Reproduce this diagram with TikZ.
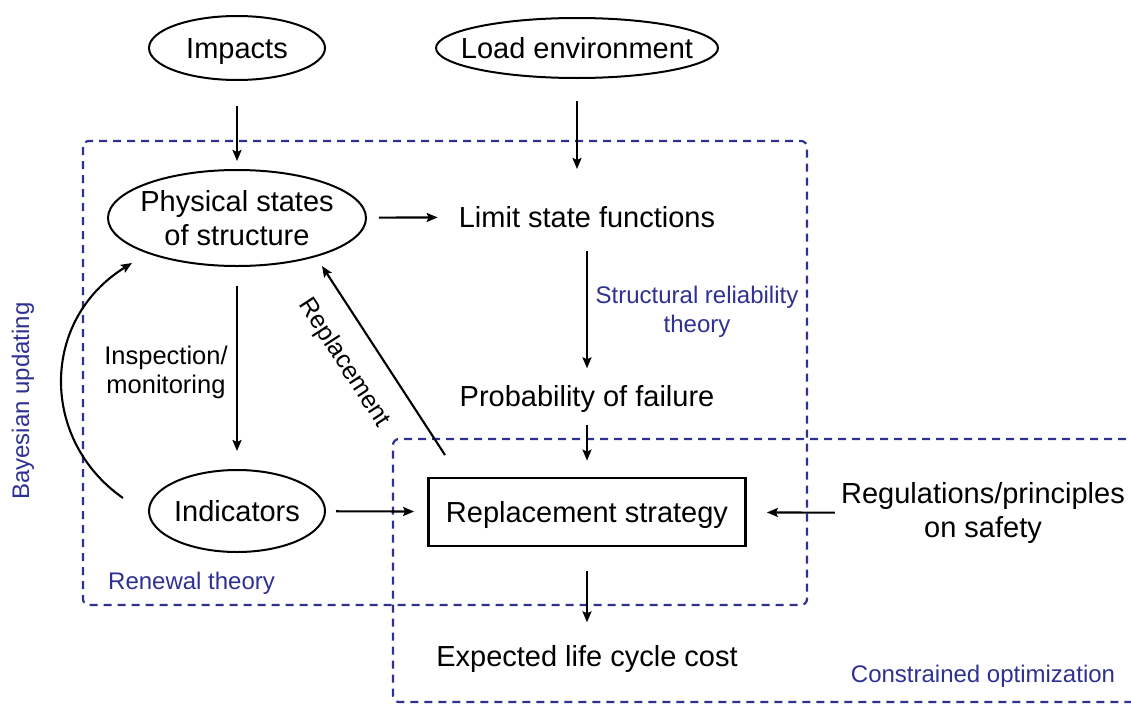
\documentclass[tikz,border=0pt]{standalone}
\usepackage{fontspec}
\setmainfont{Liberation Sans}
\usetikzlibrary{shapes.geometric,arrows.meta}
\definecolor{dblue}{RGB}{46,49,146}
\begin{document}
\begin{tikzpicture}[x=1pt,y=-1pt,
  font=\fontsize{29}{34.5}\selectfont,
  ell/.style={ellipse, draw, line width=2pt, inner ysep=0pt, inner xsep=-20pt, align=center},
  one/.style={text height=21pt, text depth=0pt},
  txt/.style={inner sep=0pt, text height=21pt, text depth=0pt},
  mtxt/.style={inner sep=0pt, align=center},
  blu/.style={text=dblue, inner sep=0pt, font=\fontsize{24}{29}\selectfont},
  arr/.style={-{Stealth[length=11pt,width=9pt,inset=2pt]}, line width=2.1pt},
  dbox/.style={draw=dblue, line width=2.2pt, dash pattern=on 8pt off 6pt, rounded corners=6pt}
]
\useasboundingbox (0,0) rectangle (1131,704);

% dashed regions
\draw[dbox] (83,141) rectangle (807,605);
\draw[dbox] (1140,439) -- (393,439) -- (393,702) -- (1140,702);

% nodes
\node[ell, one, minimum width=176pt, minimum height=64pt] (imp) at (237,48) {Impacts};
\node[ell, one, minimum width=282pt, minimum height=60pt] (load) at (577,48) {Load environment};
\node[ell, minimum width=258pt, minimum height=96pt] (phys) at (237,218) {Physical states\\of structure};
\node[txt] (lsf) at (587,217) {Limit state functions};
\node[txt] (pof) at (587,396) {Probability of failure};
\node[draw, one, line width=2.8pt, minimum width=317pt, minimum height=68pt, inner sep=0pt] (rs) at (587,512) {Replacement strategy};
\node[txt] (elcc) at (587,656) {Expected life cycle cost};
\node[ell, one, minimum width=176pt, minimum height=82pt] (ind) at (237,511) {Indicators};
\node[mtxt] (reg) at (983,513) {Regulations/principles\\on safety};
\node[mtxt, font=\fontsize{25.5}{29}\selectfont] (insp) at (166,372) {Inspection/\\monitoring};
\node[blu, align=center] (srt) at (697,312) {Structural reliability\\theory};
\node[blu, anchor=west] (ren) at (108,583) {Renewal theory};
\node[blu] (con) at (983,676) {Constrained optimization};
\node[blu, rotate=90] (bay) at (23,401) {Bayesian updating};
\node[inner sep=0pt, rotate=-57, font=\fontsize{25}{30}\selectfont] (replbl) at (344,363) {Replacement};

% free-end coordinates
\coordinate (r1) at (445,455);
\coordinate (r2) at (322,266);
\coordinate (b1) at (123,498);
\coordinate (b2) at (132,263);

% connectors
\draw[arr, shorten <=25pt, shorten >=8pt] (imp) -- (phys);
\draw[arr, shorten <=22pt, shorten >=48pt] (load) -- (load |- lsf);
\draw[arr, shorten <=12pt, shorten >=21pt] (phys) -- (lsf);
\draw[arr, shorten <=23pt, shorten >=17pt] (lsf) -- (pof);
\draw[arr, shorten <=18pt, shorten >=16pt] (pof) -- (rs);
\draw[arr, shorten <=24pt, shorten >=23pt] (rs) -- (elcc);
\draw[arr, shorten <=6pt, shorten >=20pt] (reg) -- (rs);
\draw[arr, shorten <=10pt, shorten >=13pt] (ind) -- (rs);
\draw[arr, shorten <=19pt, shorten >=18pt] (phys) -- (ind);
\draw[arr] (r1) -- (r2);
\draw[arr] (b1) .. controls (40,440) and (40,320) .. (b2);
\end{tikzpicture}
\end{document}
